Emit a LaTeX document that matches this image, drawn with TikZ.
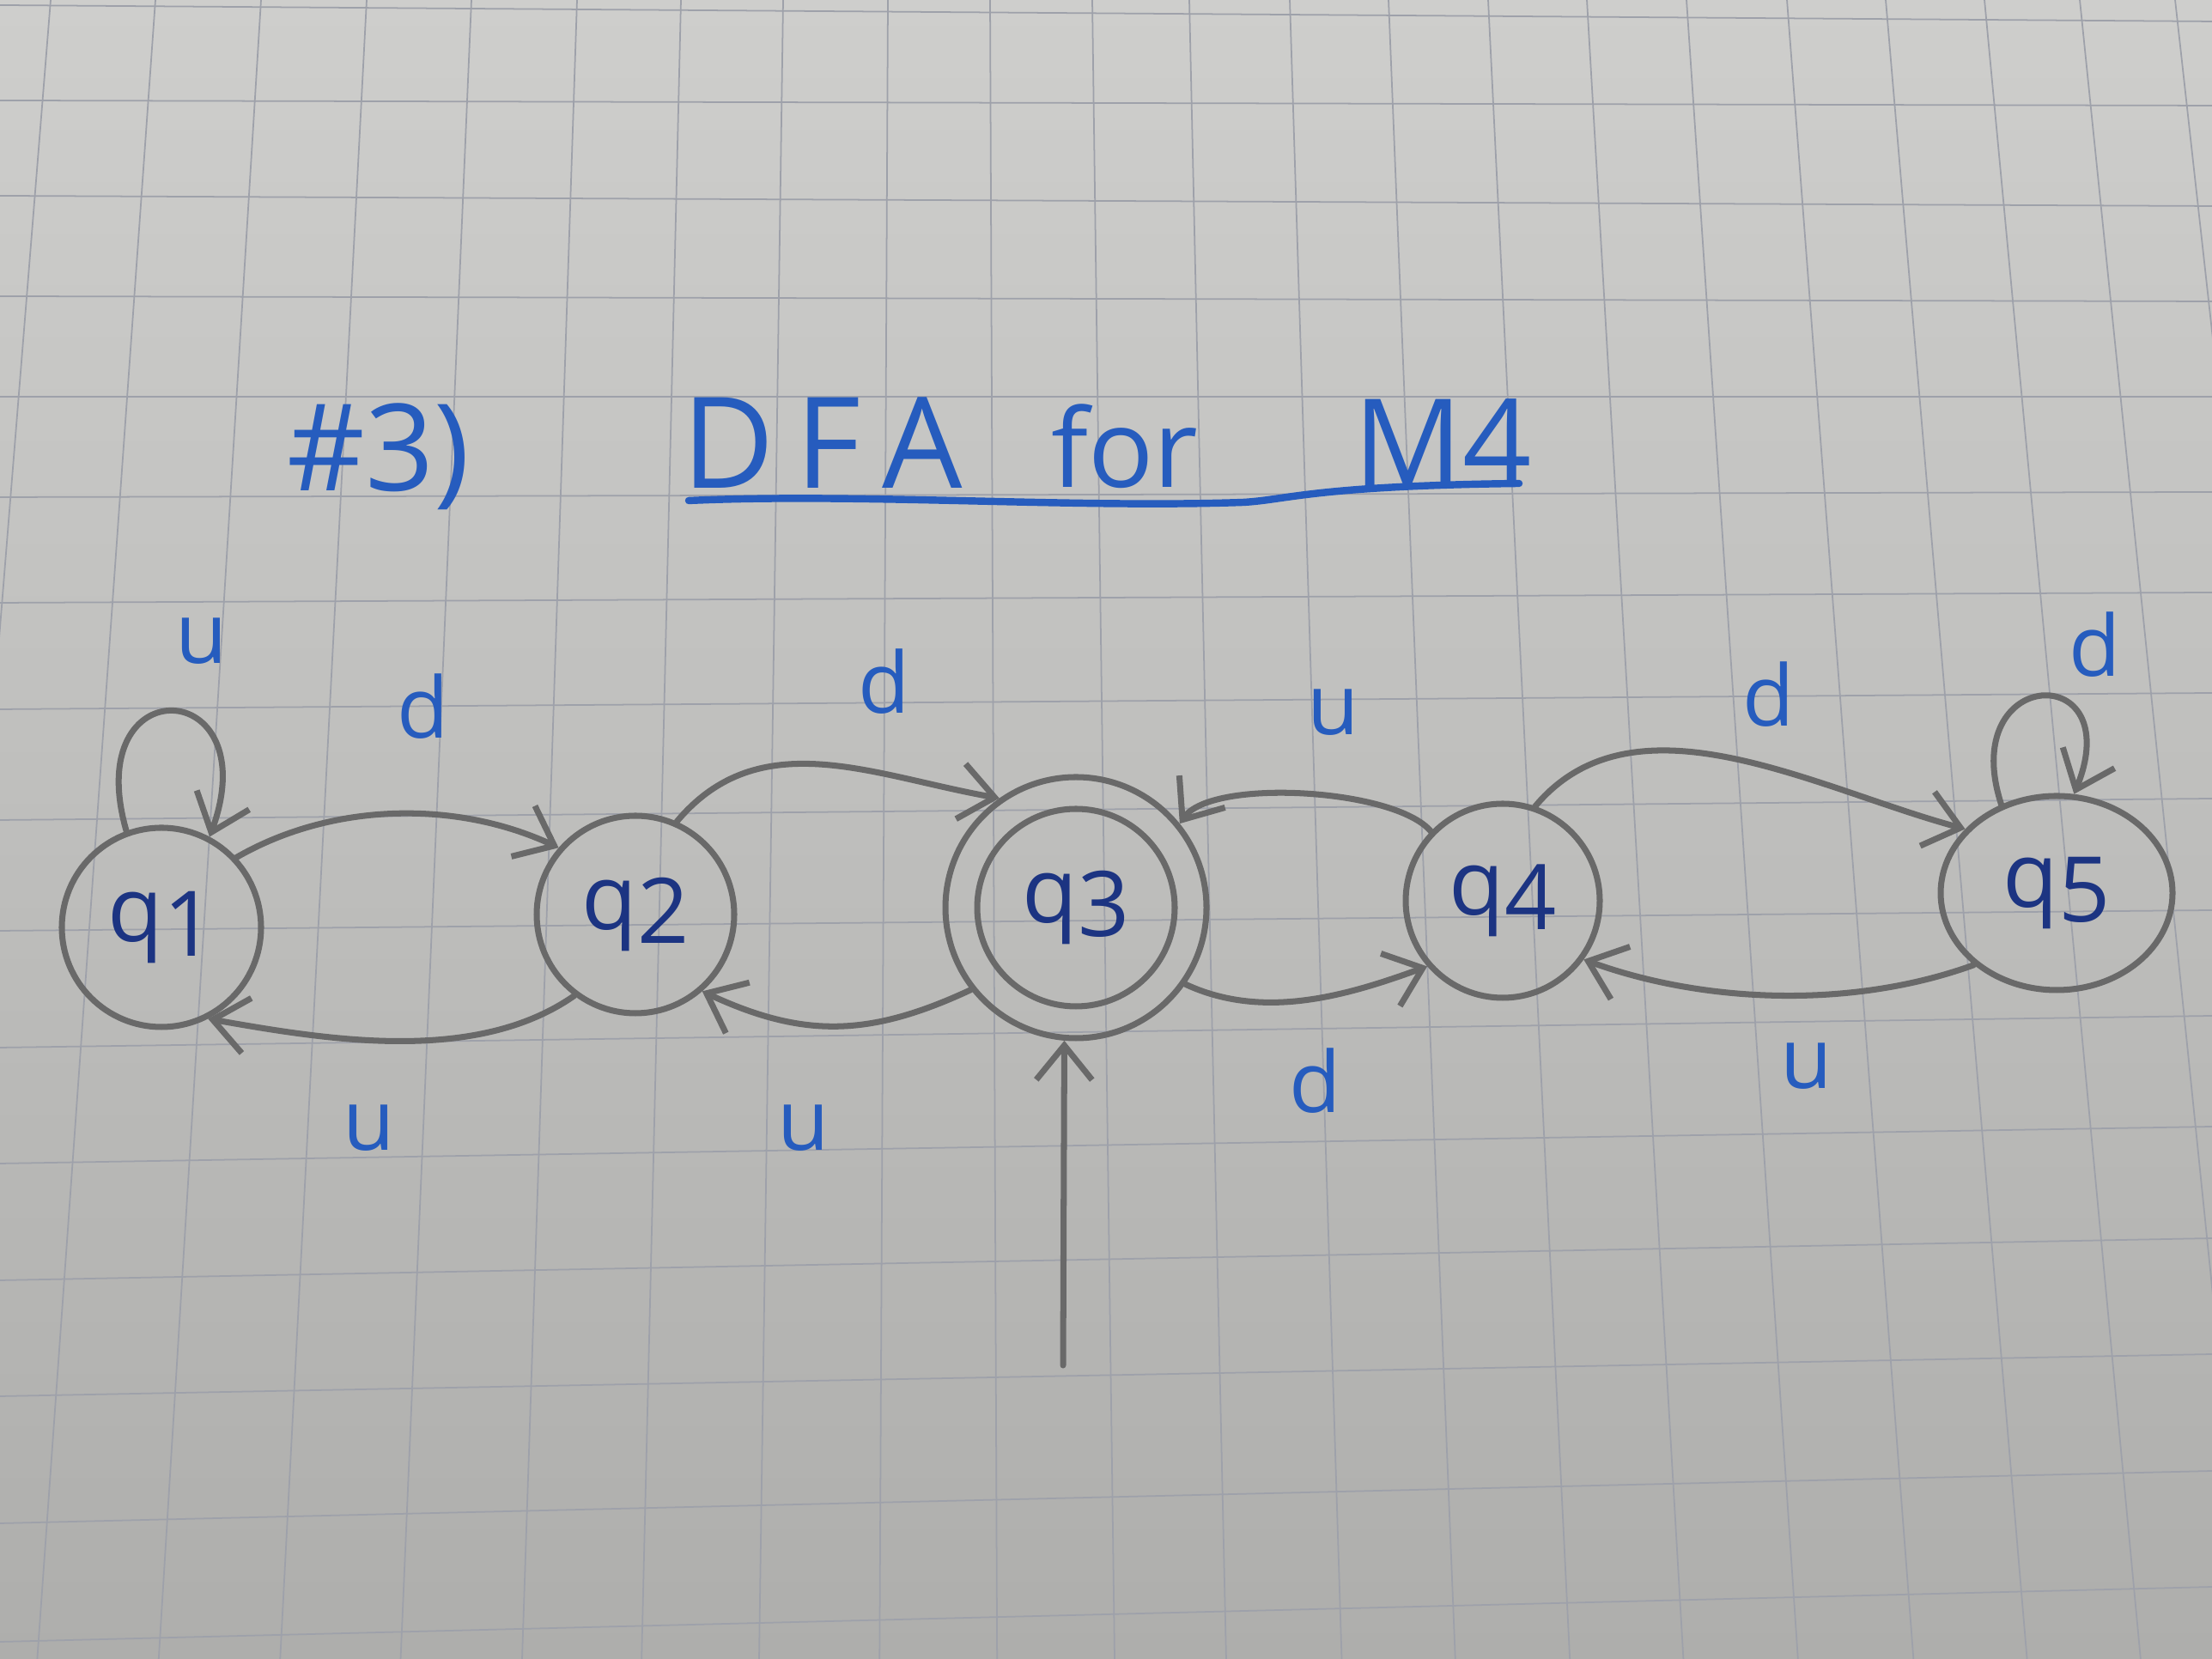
\documentclass[tikz,border=0pt]{standalone}
\usepackage{fontspec}
\setmainfont{Open Sans}
\usetikzlibrary{arrows.meta,shapes.geometric}
\definecolor{paperT}{RGB}{206,206,204}
\definecolor{paperB}{RGB}{174,174,172}
\definecolor{gridc}{RGB}{158,161,170}
\definecolor{pencilc}{RGB}{105,105,105}
\definecolor{inkblue}{RGB}{38,92,190}
\definecolor{inknavy}{RGB}{28,52,130}
\newcommand{\qlab}[1]{q\raisebox{-0.3ex}{#1}}
\begin{document}
\begin{tikzpicture}[
  pencil/.style={draw=pencilc, line width=2pt, line cap=round},
  dfastate/.style={pencil, circle, minimum size=2.32cm, inner sep=0pt, text=inknavy, font=\fontsize{30}{34}\selectfont},
  arc/.style={pencil, -{Straight Barb[length=4mm,width=6.5mm]}},
  lbl/.style={text=inkblue, font=\fontsize{28}{32}\selectfont, inner sep=0pt},
  ttl/.style={text=inkblue, font=\fontsize{40}{46}\selectfont, inner sep=0pt},
  gridline/.style={draw=gridc, line width=0.5pt}
]
\useasboundingbox (0,0) rectangle (25.76,19.32);
\shade[top color=paperT, bottom color=paperB] (0,0) rectangle (25.76,19.32);
\begin{scope}
\clip (0,0) rectangle (25.76,19.32);
\foreach \xt in {59,181,304,427,549,672,793,912,1034,1153,1272,1385,1502,1617,1733,1848,1964,2081,2196,2311,2422,2533}{
  \draw[gridline] ({\xt/100},19.32) -- ({(1298+1.15*(\xt-1272))/100},0);
}
\foreach \yl/\yr in {6/25,117/123,228/240,345/351,462/462,579/573,702/690,826/807,955/930,1084/1060,1220/1183,1355/1312,1491/1442,1626/1577,1774/1713,1912/1848}{
  \draw[gridline] (0,{19.32-\yl/100}) -- (25.76,{19.32-\yr/100});
}
\end{scope}

% title
\node[ttl] (num) at (4.41,14.0) {\#3)};
\node[ttl, font=\fontsize{42}{48}\selectfont] (dfa) at (9.58,14.16) {D\,F\,A};
\node[ttl, font=\fontsize{36}{42}\selectfont] (for) at (13.10,14.12) {for};
\node[ttl] (m4) at (16.80,14.17) {M4};
\draw[draw=inkblue, line width=2.4pt, line cap=round] (8.02,13.49) .. controls (10,13.58) and (12.5,13.40) .. (14.48,13.47) .. controls (15.0,13.50) and (15.3,13.66) .. (17.69,13.69);

% states
\node[dfastate] (q1) at (1.88,8.52) {\qlab{1}};
\node[dfastate, minimum size=2.30cm] (q2) at (7.40,8.67) {\qlab{2}};
\node[dfastate, minimum size=3.04cm] (q3) at (12.53,8.75) {\qlab{3}};
\draw[pencil] (q3.center) circle (1.15);
\node[dfastate, minimum size=2.26cm] (q4) at (17.50,8.83) {\qlab{4}};
\node[dfastate, ellipse, minimum width=2.7cm, minimum height=2.26cm] (q5) at (23.95,8.92) {\qlab{5}};

% transitions
\draw[arc] (q1.110) to[out=106,in=70,distance=2.0cm] (q1.62);
\draw[arc] (q1.43) to[out=30,in=155,distance=1.3cm] (q2.139);
\draw[arc] (q2.233) to[out=215,in=-10,distance=1.4cm] (q1.297);
\draw[arc] (q2.66) to[out=50,in=170,distance=1.5cm] (q3.125);
\draw[arc] (q3.218) to[out=205,in=-25,distance=1.3cm] (q2.311);
\draw[arc] (q3.325) to[out=-25,in=200,distance=1.0cm] (q4.221);
\draw[arc] (q4.136) to[out=130,in=55,distance=0.65cm] (q3.39);
\draw[arc] (q4.71) to[out=50,in=165,distance=1.8cm] (q5.145);
\draw[arc] (q5.221) to[out=200,in=-20,distance=1.5cm] (q4.324);
\draw[arc] (q5.122) to[out=108,in=68,distance=1.7cm] (q5.80);
\coordinate (init) at (12.38,3.42);
\draw[arc] (init) -- (q3.265);

% labels
\node[lbl] (l11) at (2.35,11.85) {u};
\node[lbl] (l12) at (4.93,11.09) {d};
\node[lbl] (l21) at (4.30,6.18) {u};
\node[lbl] (l23) at (10.30,11.38) {d};
\node[lbl] (l32) at (9.36,6.18) {u};
\node[lbl] (l43) at (15.53,11.02) {u};
\node[lbl] (l34) at (15.32,6.73) {d};
\node[lbl] (l45) at (20.60,11.23) {d};
\node[lbl] (l54) at (21.04,6.90) {u};
\node[lbl] (l55) at (24.40,11.81) {d};
\end{tikzpicture}
\end{document}
